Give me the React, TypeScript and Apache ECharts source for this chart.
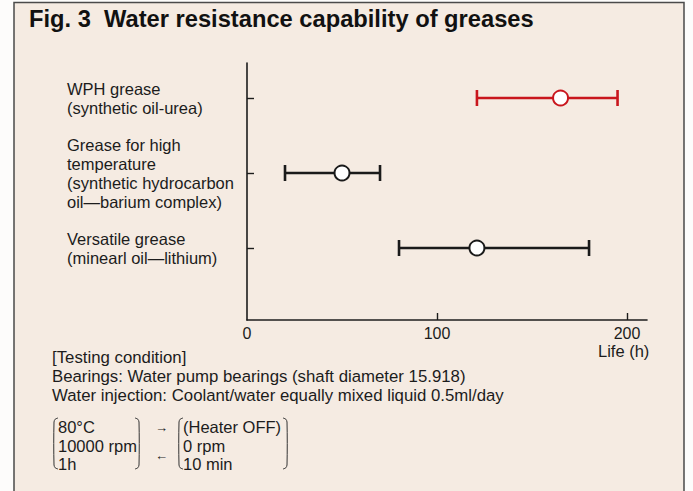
import React, { useEffect, useRef } from "react";
import * as echarts from "echarts";

const categories = [
  "WPH grease\n(synthetic oil-urea)",
  "Grease for high\ntemperature\n(synthetic hydrocarbon\noil\u2014barium complex)",
  "Versatile grease\n(minearl oil\u2014lithium)",
];
const positions = [1, 2, 3];
const lows = [121, 20, 80];
const mids = [165, 50, 121];
const highs = [195, 70, 180];
const barColors = ["#c9161d", "#1a1a1a", "#1a1a1a"];
const xTickLabels = [0, 100, 200];
const xAxisName = "Life (h)";
const titleText = "Fig. 3  Water resistance capability of greases";
const conditionLines = [
  "[Testing condition]",
  "Bearings: Water pump bearings (shaft diameter 15.918)",
  "Water injection: Coolant/water equally mixed liquid 0.5ml/day",
];
const cycleLeft = ["80\u00b0C", "10000 rpm", "1h"];
const cycleRight = ["(Heater OFF)", "0 rpm", "10 min"];

const FONT = "'Liberation Sans', Arial, Helvetica, sans-serif";
const INK = "#1c1c1c";
const BODY = 16.5;

function bracket(x: number, top: number, bottom: number, dir: number) {
  const r = 4;
  return {
    type: "polyline",
    shape: {
      points: [
        [x + dir * r, top],
        [x + dir * 1.2, top + 1.2],
        [x, top + r],
        [x, bottom - r],
        [x + dir * 1.2, bottom - 1.2],
        [x + dir * r, bottom],
      ],
      smooth: 0.3,
    },
    style: { stroke: "#333", lineWidth: 1, fill: null },
    silent: true,
  };
}

export default function App() {
  const ref = useRef<HTMLDivElement>(null);
  useEffect(() => {
    if (!ref.current) return;
    const chart = echarts.init(ref.current, null, { renderer: "svg" });
    const barData = positions.map((p, i) => [lows[i], highs[i], p, i]);
    const pointData = positions.map((p, i) => ({
      value: [mids[i], p],
      itemStyle: { color: "#ffffff", borderColor: barColors[i], borderWidth: 2, opacity: 1 },
    }));
    const lineH = 19;
    const graphics: any[] = [
      {
        type: "rect",
        z: -10,
        shape: { x: 14, y: 2.5, width: 670, height: 520 },
        style: { fill: "#f5ebe2", stroke: "#4a4a4a", lineWidth: 1.5 },
        silent: true,
      },
      {
        type: "text",
        x: 29,
        y: 19,
        style: {
          text: titleText,
          font: `bold 23.7px ${FONT}`,
          fill: "#111",
          verticalAlign: "middle",
        },
      },
      {
        type: "text",
        x: 598,
        y: 351,
        style: { text: xAxisName, font: `${BODY}px ${FONT}`, fill: INK, verticalAlign: "middle" },
      },
    ];
    conditionLines.forEach((t, i) => {
      graphics.push({
        type: "text",
        x: 52,
        y: 357 + i * lineH,
        style: { text: t, font: `16.8px ${FONT}`, fill: INK, verticalAlign: "middle" },
      });
    });
    cycleLeft.forEach((t, i) => {
      graphics.push({
        type: "text",
        x: 58,
        y: 427 + i * 18.5,
        style: { text: t, font: `${BODY}px ${FONT}`, fill: INK, verticalAlign: "middle" },
      });
    });
    cycleRight.forEach((t, i) => {
      graphics.push({
        type: "text",
        x: 183,
        y: 427 + i * 18.5,
        style: { text: t, font: `${BODY}px ${FONT}`, fill: INK, verticalAlign: "middle" },
      });
    });
    graphics.push(
      { type: "text", x: 155, y: 427, style: { text: "\u2192", font: `13px ${FONT}`, fill: INK, verticalAlign: "middle" } },
      { type: "text", x: 155, y: 455, style: { text: "\u2190", font: `13px ${FONT}`, fill: INK, verticalAlign: "middle" } },
      bracket(54, 418, 469, 1),
      bracket(139, 418, 469, -1),
      bracket(179, 418, 469, 1),
      bracket(287, 418, 469, -1)
    );

    chart.setOption({
      animation: false,
      backgroundColor: "#fdfcfb",
      textStyle: { fontFamily: FONT },
      grid: { left: 247, right: 46, top: 63, bottom: 171, containLabel: false },
      xAxis: {
        type: "value",
        min: 0,
        max: 210.5,
        interval: 100,
        splitLine: { show: false },
        axisLine: { show: true, lineStyle: { color: INK, width: 1.6 } },
        axisTick: {
          show: true,
          inside: true,
          length: 7,
          customValues: [100, 200],
          lineStyle: { color: INK, width: 1.4 },
        },
        axisLabel: {
          customValues: xTickLabels,
          fontSize: 16,
          color: INK,
          margin: 5,
          fontFamily: FONT,
        },
      },
      yAxis: {
        type: "value",
        inverse: true,
        min: 0.5333,
        max: 3.96,
        splitLine: { show: false },
        axisLine: { show: true, onZero: false, lineStyle: { color: INK, width: 1.6 } },
        axisTick: {
          show: true,
          inside: true,
          length: 7,
          customValues: positions,
          lineStyle: { color: INK, width: 1.4 },
        },
        axisLabel: {
          customValues: positions,
          formatter: (v: number) => categories[Math.round(v) - 1] ?? "",
          align: "left",
          margin: 180,
          fontSize: BODY,
          lineHeight: 19,
          color: INK,
          fontFamily: FONT,
        },
      },
      graphic: graphics,
      series: [
        {
          type: "custom",
          data: barData,
          encode: { x: [0, 1], y: 2 },
          z: 2,
          renderItem: (params: any, api: any) => {
            const idx = api.value(3);
            const color = barColors[idx];
            const a = api.coord([api.value(0), api.value(2)]);
            const b = api.coord([api.value(1), api.value(2)]);
            const cap = 8;
            const st = { stroke: color, lineWidth: 2.6 };
            return {
              type: "group",
              children: [
                { type: "line", shape: { x1: a[0], y1: a[1], x2: b[0], y2: b[1] }, style: st },
                { type: "line", shape: { x1: a[0], y1: a[1] - cap, x2: a[0], y2: a[1] + cap }, style: st },
                { type: "line", shape: { x1: b[0], y1: b[1] - cap, x2: b[0], y2: b[1] + cap }, style: st },
              ],
            };
          },
        },
        {
          type: "scatter",
          data: pointData,
          symbol: "circle",
          symbolSize: 15,
          z: 3,
          emphasis: { disabled: true },
        },
      ],
    });
    return () => chart.dispose();
  }, []);
  return (
    <div
      ref={ref}
      style={{ position: "absolute", left: 0, top: 0, width: 693, height: 491 }}
    />
  );
}
